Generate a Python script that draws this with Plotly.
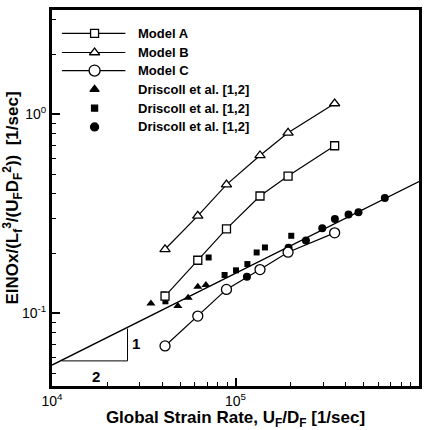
import plotly.graph_objects as go

# ---------------- data ----------------
strain_rate = [41300, 62300, 89300, 136000, 193400, 347000]
model_a = [0.122, 0.185, 0.266, 0.389, 0.49, 0.696]
model_b = [0.21, 0.309, 0.444, 0.622, 0.808, 1.135]
model_c = [0.0686, 0.0969, 0.132, 0.166, 0.203, 0.254]

driscoll_tri_x = [34600, 48500, 55200, 62300, 69000]
driscoll_tri_y = [0.112, 0.109, 0.120, 0.136, 0.139]
driscoll_sq_x = [40800, 41500, 71400, 87200, 100600, 116100, 130400, 144700, 201300]
driscoll_sq_y = [0.1245, 0.115, 0.191, 0.156, 0.1646, 0.177, 0.2024, 0.2145, 0.2455]
driscoll_circ_x = [115400, 194500, 242000, 297000, 348000, 413000, 468000, 651000]
driscoll_circ_y = [0.153, 0.214, 0.2325, 0.268, 0.2985, 0.3145, 0.322, 0.380]

ref_line_x = [1e4, 1e6]
ref_line_y = [0.055, 0.46]
slope_tri_x = [11300, 25800, 25800]
slope_tri_y = [0.0577, 0.0577, 0.0839]

x_tick_vals = [1e4, 1e5, 1e6]
x_tick_text = ["10<sup>4</sup>", "10<sup>5</sup>", "10<sup>6</sup>"]
y_tick_vals = [0.1, 1.0]
y_tick_text = ["10<sup>-1</sup>", "10<sup>0</sup>"]

legend_labels = ["Model A", "Model B", "Model C",
                 "Driscoll et al. [1,2]", "Driscoll et al. [1,2]", "Driscoll et al. [1,2]"]

# minor tick positions (2..9 in every decade)
x_minor = [m * 10 ** e for e in (4, 5) for m in range(2, 10)]
y_minor = [m * 10.0 ** e for e in (-2, -1, 0) for m in range(2, 10)]

# ---------------- styling ----------------
FONT = "Liberation Sans Narrow, Arial Narrow, Liberation Sans, Arial, sans-serif"
BLACK = "black"

fig = go.Figure()

def model_trace(y, symbol, size):
    return go.Scatter(
        x=strain_rate, y=y, mode="lines+markers",
        line=dict(color=BLACK, width=1.2),
        marker=dict(symbol=symbol, size=size, color="white",
                    line=dict(color=BLACK, width=1.3)),
        showlegend=False, xaxis="x", yaxis="y")

fig.add_trace(go.Scatter(x=ref_line_x, y=ref_line_y, mode="lines",
                         line=dict(color=BLACK, width=1.4), showlegend=False))
fig.add_trace(go.Scatter(x=slope_tri_x, y=slope_tri_y, mode="lines",
                         line=dict(color=BLACK, width=1.0), showlegend=False))
fig.add_trace(go.Scatter(x=driscoll_tri_x, y=driscoll_tri_y, mode="markers",
                         marker=dict(symbol="triangle-up", size=8, color=BLACK),
                         showlegend=False))
fig.add_trace(go.Scatter(x=driscoll_sq_x, y=driscoll_sq_y, mode="markers",
                         marker=dict(symbol="square", size=6, color=BLACK),
                         showlegend=False))
fig.add_trace(go.Scatter(x=driscoll_circ_x, y=driscoll_circ_y, mode="markers",
                         marker=dict(symbol="circle", size=8, color=BLACK),
                         showlegend=False))
fig.add_trace(model_trace(model_a, "square", 8))
fig.add_trace(model_trace(model_b, "triangle-up", 9))
fig.add_trace(model_trace(model_c, "circle", 10))

# ---------------- hand-drawn legend (overlay axes 0..1) ----------------
leg_x0, leg_x1, leg_xm, leg_tx = 0.027, 0.2, 0.116, 0.23
leg_rows = [0.938, 0.887, 0.839, 0.789, 0.739, 0.689]
leg_symbols = [("square", 8, "white", True), ("triangle-up", 9, "white", True),
               ("circle", 11, "white", True), ("triangle-up", 8, BLACK, False),
               ("square", 6, BLACK, False), ("circle", 8, BLACK, False)]
for (sym, sz, col, has_line), ry, lab in zip(leg_symbols, leg_rows, legend_labels):
    if has_line:
        fig.add_trace(go.Scatter(x=[leg_x0, leg_x1], y=[ry, ry], mode="lines",
                                 line=dict(color=BLACK, width=1.2),
                                 xaxis="x2", yaxis="y2", showlegend=False,
                                 hoverinfo="skip"))
    fig.add_trace(go.Scatter(x=[leg_xm], y=[ry], mode="markers",
                             marker=dict(symbol=sym, size=sz, color=col,
                                         line=dict(color=BLACK, width=1.3)),
                             xaxis="x2", yaxis="y2", showlegend=False,
                             hoverinfo="skip"))
    fig.add_annotation(x=leg_tx, y=ry, xref="x domain", yref="y domain",
                       text=lab, showarrow=False, xanchor="left", yanchor="middle",
                       font=dict(family=FONT, size=13, color=BLACK, weight="bold"))

# slope labels
fig.add_annotation(x=4.459, y=-1.15, xref="x", yref="y", text="1", showarrow=False,
                   font=dict(family=FONT, size=15, color=BLACK, weight="bold"))
fig.add_annotation(x=4.2416, y=-1.315, xref="x", yref="y", text="2", showarrow=False,
                   font=dict(family=FONT, size=15, color=BLACK, weight="bold"))

fig.update_layout(
    width=428, height=430,
    margin=dict(l=52, r=6, t=10, b=41),
    paper_bgcolor="white", plot_bgcolor="white",
    font=dict(family=FONT, size=14, color=BLACK),
    xaxis=dict(
        type="log", range=[4, 6],
        tickvals=x_tick_vals, ticktext=x_tick_text,
        ticks="inside", ticklen=8, tickwidth=1.5, tickcolor=BLACK,
        minor=dict(ticks="inside", ticklen=4, tickwidth=1, tickcolor=BLACK,
                   tickmode="array", tickvals=x_minor, showgrid=False),
        showline=True, linewidth=2.8, linecolor=BLACK, mirror=True,
        showgrid=False, zeroline=False,
        tickfont=dict(family=FONT, size=14),
        title=dict(text="Global Strain Rate, U<sub>F</sub>/D<sub>F</sub> [1/sec]",
                   font=dict(family=FONT, size=17, weight="bold"), standoff=3),
    ),
    yaxis=dict(
        type="log", range=[-1.365, 0.525],
        tickvals=y_tick_vals, ticktext=y_tick_text,
        ticks="inside", ticklen=8, tickwidth=1.5, tickcolor=BLACK,
        minor=dict(ticks="inside", ticklen=4, tickwidth=1, tickcolor=BLACK,
                   tickmode="array", tickvals=y_minor, showgrid=False),
        showline=True, linewidth=2.8, linecolor=BLACK, mirror=True,
        showgrid=False, zeroline=False,
        tickfont=dict(family=FONT, size=14),
        title=dict(text="EINOx/(L<sub>f</sub><sup>3</sup>/(U<sub>F</sub>D<sub>F</sub><sup>2</sup>))  [1/sec]",
                   font=dict(family=FONT, size=17, weight="bold"), standoff=2),
    ),
    xaxis2=dict(overlaying="x", range=[0, 1], visible=False, anchor="y2"),
    yaxis2=dict(overlaying="y", range=[0, 1], visible=False, anchor="x2"),
)

fig.write_html("out.html")
